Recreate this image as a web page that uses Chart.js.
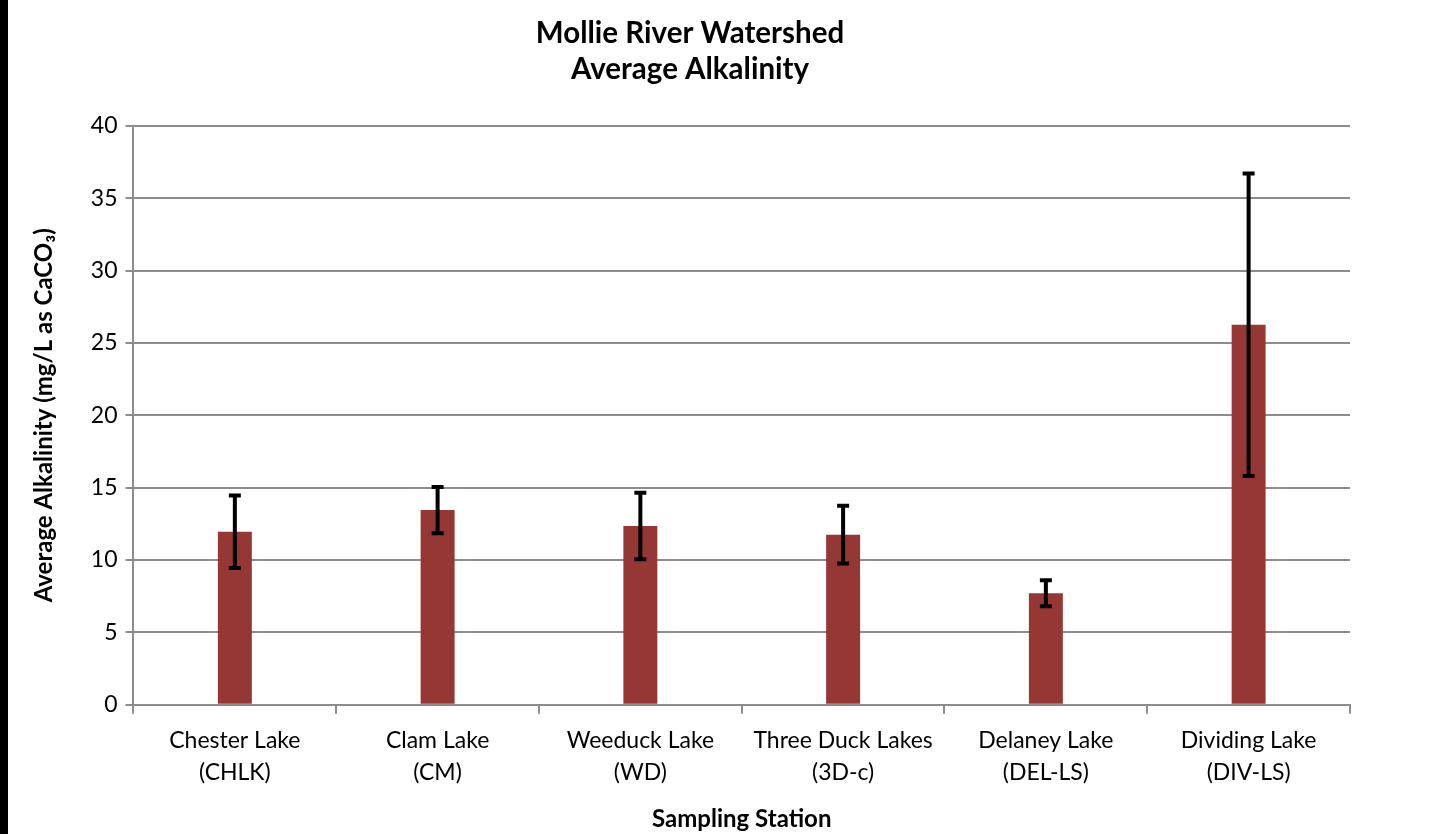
<!DOCTYPE html>
<html>
<head>
<meta charset="utf-8">
<script src="https://cdn.jsdelivr.net/npm/chart.js@4/dist/chart.umd.min.js"></script>
<style>
  body { margin: 0; background: #fff; }
  #wrap { position: relative; width: 1432px; height: 834px; }
  #edge { position: absolute; left: 0; top: 0; width: 8px; height: 834px; background: #000; }
</style>
</head>
<body>
<div id="wrap">
  <div id="edge"></div>
  <canvas id="chart" width="1432" height="834"></canvas>
</div>
<script>
// data
const stations = [
  ['Chester Lake', '(CHLK)'],
  ['Clam Lake', '(CM)'],
  ['Weeduck Lake', '(WD)'],
  ['Three Duck Lakes', '(3D-c)'],
  ['Delaney Lake', '(DEL-LS)'],
  ['Dividing Lake', '(DIV-LS)']
]
const avgAlk = [11.95, 13.45, 12.35, 11.75, 7.7, 26.25]
const alkErr = [2.5, 1.6, 2.3, 2.0, 0.9, 10.45]

const font = 'Lato, "Open Sans", sans-serif'
const gridGray = '#8c8c8c'

// draw error bars from the y scale
const errorBars = {
  id: 'errorBars',
  afterDatasetsDraw(chart) {
    const ctx = chart.ctx
    const y = chart.scales.y
    const meta = chart.getDatasetMeta(0)
    ctx.save()
    ctx.strokeStyle = '#000'
    ctx.lineWidth = 4
    meta.data.forEach((bar, i) => {
      const top = y.getPixelForValue(avgAlk[i] + alkErr[i])
      const bot = y.getPixelForValue(avgAlk[i] - alkErr[i])
      ctx.beginPath()
      ctx.moveTo(bar.x, top)
      ctx.lineTo(bar.x, bot)
      ctx.moveTo(bar.x - 6, top)
      ctx.lineTo(bar.x + 6, top)
      ctx.moveTo(bar.x - 6, bot)
      ctx.lineTo(bar.x + 6, bot)
      ctx.stroke()
    })
    ctx.restore()
  }
}

new Chart(document.getElementById('chart'), {
  type: 'bar',
  data: {
    labels: stations,
    datasets: [{
      data: avgAlk,
      backgroundColor: '#953735',
      borderWidth: 0,
      barPercentage: 0.5,
      categoryPercentage: 0.335
    }]
  },
  options: {
    responsive: false,
    animation: false,
    layout: { padding: { left: 30, right: 82, top: 10, bottom: 0 } },
    plugins: {
      legend: { display: false },
      tooltip: { enabled: false },
      title: {
        display: true,
        text: ['Mollie River Watershed', 'Average Alkalinity'],
        color: '#000',
        font: { family: font, size: 29.5, weight: 'bold' },
        padding: { top: 6, bottom: 39 },
        lineHeight: 1.38
      }
    },
    scales: {
      x: {
        grid: {
          offset: true,
          drawOnChartArea: false,
          drawTicks: true,
          tickLength: 9,
          color: gridGray,
          lineWidth: 2
        },
        border: { color: gridGray, width: 2 },
        ticks: {
          color: '#000',
          font: { family: font, size: 23, lineHeight: 1.38 },
          padding: 11,
          maxRotation: 0,
          autoSkip: false
        },
        title: {
          display: true,
          text: 'Sampling Station',
          color: '#000',
          font: { family: font, size: 24, weight: 'bold' },
          padding: { top: 6, bottom: 0 }
        }
      },
      y: {
        min: 0,
        max: 40,
        ticks: {
          stepSize: 5,
          color: '#000',
          font: { family: font, size: 23 },
          padding: 8
        },
        grid: {
          color: gridGray,
          lineWidth: 2,
          tickLength: 8
        },
        border: { color: gridGray, width: 2 },
        title: {
          display: true,
          text: 'Average Alkalinity (mg/L as CaCO\u2083)',
          color: '#000',
          font: { family: font, size: 24, weight: 'bold' },
          padding: { top: 0, bottom: 24 }
        }
      }
    }
  },
  plugins: [errorBars]
})
</script>
</body>
</html>
